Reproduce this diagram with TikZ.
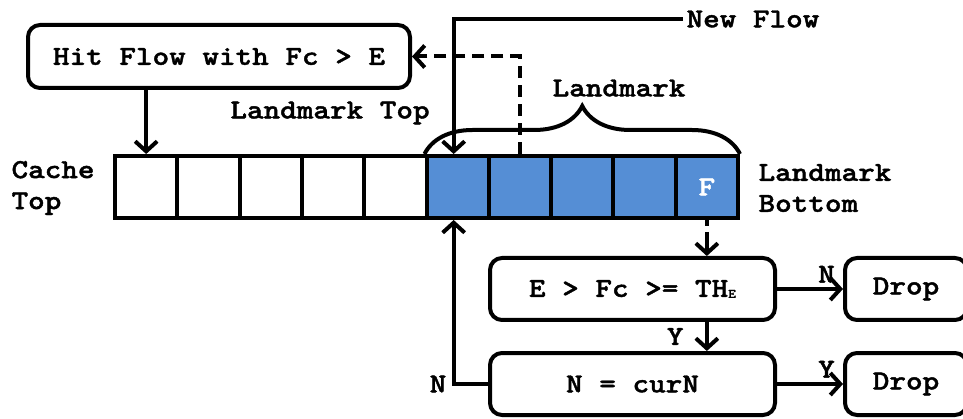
\documentclass[tikz,border=0pt]{standalone}
\usepackage{fontspec}
\newfontfamily\courfont[FakeStretch=1.15,FakeBold=1.5]{Latin Modern Mono Light}
\usetikzlibrary{arrows.meta,decorations.pathreplacing,positioning}
\definecolor{lmblue}{RGB}{85,142,213}
\tikzset{
  txt/.style={font=\courfont\bfseries\fontsize{27.5}{31}\selectfont},
  cell/.style={draw, line width=4pt, minimum width=62.3pt, minimum height=62pt, inner sep=0pt},
  lmcell/.style={cell, fill=lmblue},
  rbox/.style={draw, line width=4pt, rounded corners=12pt, inner sep=0pt, txt},
  arr/.style={line width=4pt, -{Straight Barb[length=10pt,width=22pt,line width=4pt]}},
}
\begin{document}
\begin{tikzpicture}[x=1pt,y=-1pt]
  \useasboundingbox (0,0) rectangle (963,419);
  % cache cells
  \foreach \i in {0,...,4}
    \node[cell] (c\i) at (146.15+62.3*\i,187) {};
  \foreach \i in {5,...,9}
    \node[lmcell] (c\i) at (146.15+62.3*\i,187) {};
  \node[txt, text=white] at (c9) {F};
  % boxes
  \node[rbox, minimum width=382pt, minimum height=63pt] (hit) at (219,56.5) {Hit Flow with Fc > E};
  \node[rbox, minimum width=285pt, minimum height=62pt] (cond) at (632.5,289) {E > Fc >= TH\raisebox{-1pt}{\fontsize{13}{13}\selectfont E}};
  \node[rbox, minimum width=285pt, minimum height=62pt] (curn) at (632.5,384) {N = curN};
  \node[rbox, minimum width=122pt, minimum height=62pt] (drop1) at (906,289) {Drop};
  \node[rbox, minimum width=122pt, minimum height=62pt] (drop2) at (906,384) {Drop};
  % labels
  \node[txt, anchor=west] (newflow) at (683,19) {New Flow};
  \node[txt] (lmtop) at (330,113) {Landmark Top};
  \node[txt] (lm) at (619,88) {Landmark};
  \node[txt, anchor=west, align=left] (cachetop) at (8,188) {Cache\\Top};
  \node[txt, anchor=west, align=left] (lmbot) at (755,188) {Landmark\\Bottom};
  % brace
  \draw[line width=4pt, decorate, decoration={brace, amplitude=48pt, aspect=0.5}]
    (c5.north west) -- (c9.north east);
  % connectors
  \draw[arr] (newflow.west) -| ([xshift=-4pt]c5.north);
  \draw[arr, dashed, dash pattern=on 12pt off 7pt] (c6.north) |- (hit.east);
  \draw[arr] (hit.south -| c0) -- (c0.north);
  \draw[arr, dash pattern=on 6pt off 6pt on 30pt] (c9.south) -- (c9.south |- cond.north);
  \draw[arr] (cond.east) -- node[txt, above, pos=0.75, yshift=1pt] {N} (drop1.west);
  \draw[arr] (cond.south -| c9) -- node[txt, left, xshift=-18pt] {Y} (curn.north -| c9);
  \draw[arr] (curn.east) -- node[txt, above, pos=0.75, yshift=1pt] {Y} (drop2.west);
  \draw[arr] (curn.west) -| node[txt, pos=0.5, left, xshift=-2pt] {N} ([xshift=-4pt]c5.south);
\end{tikzpicture}
\end{document}
